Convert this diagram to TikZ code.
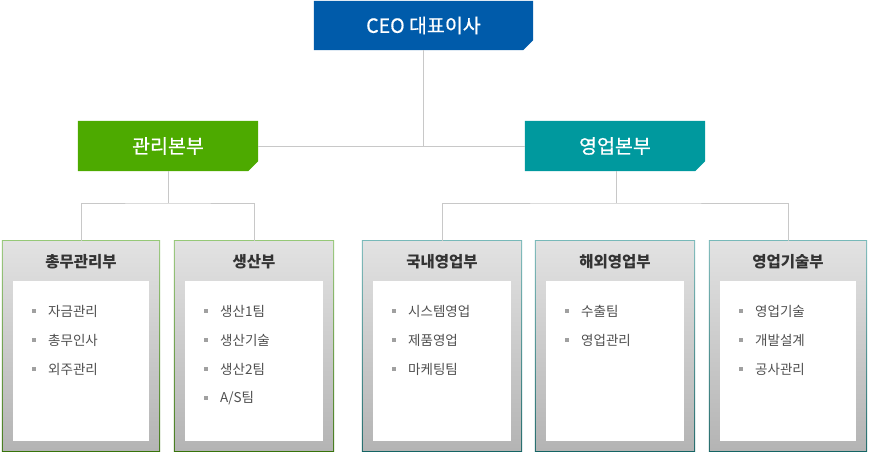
\documentclass[tikz,border=0pt]{standalone}
\usepackage{fontspec}
\setmainfont{Noto Sans CJK KR}
\newfontfamily\hdfont[FakeBold=0.7]{Noto Sans CJK KR}
\usetikzlibrary{backgrounds}
\definecolor{ceoblue}{RGB}{0,91,170}
\definecolor{mgreen}{RGB}{77,170,0}
\definecolor{mteal}{RGB}{0,153,158}
\definecolor{lineg}{RGB}{200,200,200}
\definecolor{gtop}{RGB}{226,226,226}
\definecolor{gbot}{RGB}{180,180,180}
\definecolor{grnT}{RGB}{150,200,120}
\definecolor{grnB}{RGB}{55,115,10}
\definecolor{tlT}{RGB}{120,185,185}
\definecolor{tlB}{RGB}{20,100,100}
\definecolor{ttlc}{RGB}{51,51,51}
\definecolor{itmc}{RGB}{80,80,80}
\definecolor{bltc}{RGB}{160,160,160}
\tikzset{
  headbox/.style={rectangle, inner sep=0pt, text=white, font=\hdfont\fontsize{19.5}{21}\selectfont},
  conn/.style={draw=lineg, line width=0.9pt},
  lowb/.style={rectangle, inner sep=0pt, minimum height=210pt},
  lowin/.style={rectangle, inner sep=0pt, minimum height=160pt},
  ttlsty/.style={inner sep=0pt, text=ttlc, font=\fontsize{15.5}{17}\selectfont\bfseries},
  itmsty/.style={inner sep=0pt, anchor=west, text=itmc, font=\fontsize{13.5}{15}\selectfont},
  bul/.style={rectangle, inner sep=0pt, minimum size=3.5pt, fill=bltc},
}
\newcommand\notchfill[2]{\fill[#2] (#1.north west) -- (#1.north east) -- ([yshift=10pt]#1.south east) -- ([xshift=-10pt]#1.south east) -- (#1.south west) -- cycle;}
% name, xleft, width, topcolor, bottomcolor, title
\newcommand\lowbox[6]{%
  \node[lowb, minimum width=#3pt] (#1) at ({#2+#3/2},346) {};
  \node[lowin, minimum width={#3pt-22pt}] (#1w) at ({#2+#3/2},361) {};
  \node[ttlsty] (#1t) at ({#2+#3/2},262) {#6};
  \begin{scope}[on background layer]
    \shade[top color=#4, bottom color=#5] (#1.north west) rectangle (#1.south east);
    \shade[top color=gtop, bottom color=gbot] ([shift={(1pt,-1pt)}]#1.north west) rectangle ([shift={(-1pt,1pt)}]#1.south east);
    \fill[white] (#1w.north west) rectangle (#1w.south east);
  \end{scope}
}
% box name, index, inner left x, y, text
\newcommand\bitem[5]{%
  \node[bul] (#1b#2) at (#3+21,#4) {};
  \node[itmsty] (#1i#2) at (#3+35,#4) {#5};
}
\begin{document}
\begin{tikzpicture}[x=1pt,y=-1pt]
\useasboundingbox (0,0) rectangle (870,456);
% top level
\node[headbox, minimum width=219pt, minimum height=49pt] (ceo) at (423.5,25.5) {CEO 대표이사};
\node[headbox, minimum width=180pt, minimum height=50pt] (mg) at (168,146) {관리본부};
\node[headbox, minimum width=180pt, minimum height=50pt] (ms) at (615,146) {영업본부};
\begin{scope}[on background layer]
  \notchfill{ceo}{ceoblue}
  \notchfill{mg}{mgreen}
  \notchfill{ms}{mteal}
\end{scope}
% lower boxes
\lowbox{b1}{2}{158}{grnT}{grnB}{총무관리부}
\lowbox{b2}{174}{160}{grnT}{grnB}{생산부}
\lowbox{b3}{362}{160}{tlT}{tlB}{국내영업부}
\lowbox{b4}{535}{160}{tlT}{tlB}{해외영업부}
\lowbox{b5}{709}{158}{tlT}{tlB}{영업기술부}
% items
\bitem{b1}{1}{13}{311}{자금관리}
\bitem{b1}{2}{13}{340}{총무인사}
\bitem{b1}{3}{13}{369}{외주관리}
\bitem{b2}{1}{185}{311}{생산1팀}
\bitem{b2}{2}{185}{340}{생산기술}
\bitem{b2}{3}{185}{369}{생산2팀}
\bitem{b2}{4}{185}{398}{A/S팀}
\bitem{b3}{1}{373}{311}{시스템영업}
\bitem{b3}{2}{373}{340}{제품영업}
\bitem{b3}{3}{373}{369}{마케팅팀}
\bitem{b4}{1}{546}{311}{수출팀}
\bitem{b4}{2}{546}{340}{영업관리}
\bitem{b5}{1}{720}{311}{영업기술}
\bitem{b5}{2}{720}{340}{개발설계}
\bitem{b5}{3}{720}{369}{공사관리}
% connectors
\coordinate (gj) at (168,203);
\coordinate (tj) at (616,203);
\draw[conn] (ceo.south) -- (ceo.south |- mg.east);
\draw[conn] (mg.east) -- (ms.west);
\draw[conn] (mg.south) -- (gj);
\draw[conn] (b1.north) |- (gj) -| (b2.north);
\draw[conn] ([xshift=1pt]ms.south) -- (tj);
\draw[conn] (b3.north) |- (tj) -| (b5.north);
\end{tikzpicture}
\end{document}
